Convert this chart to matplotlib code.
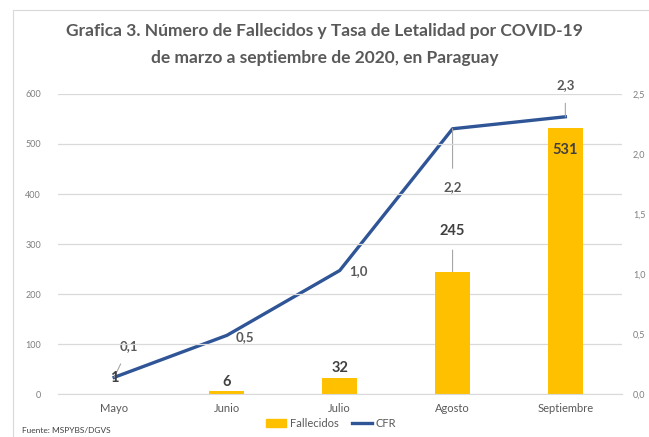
import matplotlib
matplotlib.use("Agg")
from matplotlib import pyplot as plt
from matplotlib.patches import Rectangle
from matplotlib.lines import Line2D

# Daten
meses = ["Mayo", "Junio", "Julio", "Agosto", "Septiembre"]
fallecidos = [1, 6, 32, 245, 531]
cfr = [0.14, 0.49, 1.03, 2.21, 2.31]

plt.rcParams["font.family"] = ["Lato", "DejaVu Sans"]

fig = plt.figure(figsize=(6.49, 4.37), dpi=100)
ax = fig.add_axes([0.089, 0.098, 0.869, 0.687])
ax2 = ax.twinx()

x = list(range(len(meses)))
ax.bar(x, fallecidos, width=0.31, color="#FFC000", zorder=2)
ax2.plot(x, cfr, color="#2F5597", linewidth=2.4, zorder=3)

ax.set_xlim(-0.5, 4.5)
ax.set_ylim(0, 600)
ax2.set_ylim(0, 2.5)
ax.set_yticks(range(0, 601, 100))
ax2.set_yticks([0, 0.5, 1.0, 1.5, 2.0, 2.5])
ax2.set_yticklabels(["0,0", "0,5", "1,0", "1,5", "2,0", "2,5"])
ax.set_xticks(x)
ax.set_xticklabels(meses)
ax.grid(axis="y", color="#D9D9D9", linewidth=0.9, zorder=0)
ax.set_axisbelow(True)

for a in (ax, ax2):
    for s in a.spines.values():
        s.set_visible(False)
    a.tick_params(length=0, colors="#7F7F7F", labelsize=6.5)
ax.spines["bottom"].set_visible(True)
ax.spines["bottom"].set_color("#D9D9D9")
ax.tick_params(axis="x", labelsize=8, colors="#595959", pad=6)
ax.tick_params(axis="y", pad=12)
ax2.tick_params(axis="y", pad=8)
ax.set_zorder(ax2.get_zorder() + 1)
ax.patch.set_visible(False)

# Beschriftungen Balken (Offset in Pixel)
bar_offsets = [(0, 16), (0, 9), (0, 10), (0, 41), (0, -22)]
for i, (v, off) in enumerate(zip(fallecidos, bar_offsets)):
    lead = dict(arrowstyle="-", color="#A6A6A6", lw=0.8, shrinkA=7, shrinkB=0) if i == 3 else None
    ax.annotate(str(v), (i, v), xytext=off, textcoords="offset pixels",
                ha="center", va="center", fontsize=10.5, fontweight="bold",
                color="#404040", arrowprops=lead, zorder=5)

# Beschriftungen CFR
cfr_offsets = [(15, 31), (18, -2), (19, -1), (0, -58), (0, 32)]
for i, (v, off) in enumerate(zip(cfr, cfr_offsets)):
    lead = None
    if i in (0, 3, 4):
        lead = dict(arrowstyle="-", color="#A6A6A6", lw=0.8, shrinkA=7, shrinkB=0)
    ax2.annotate(f"{v:.1f}".replace(".", ","), (i, v), xytext=off,
                 textcoords="offset pixels", ha="center", va="center",
                 fontsize=9.5, fontweight="bold", color="#595959",
                 arrowprops=lead, zorder=5)

fig.text(0.5, 0.93, "Grafica 3. Número de Fallecidos y Tasa de Letalidad por COVID-19",
         ha="center", va="center", fontsize=12.5, fontweight="bold", color="#595959")
fig.text(0.5, 0.867, "de marzo a septiembre de 2020, en Paraguay",
         ha="center", va="center", fontsize=12.5, fontweight="bold", color="#595959")

handles = [Rectangle((0, 0), 1, 1, color="#FFC000"),
           Line2D([0], [0], color="#2F5597", lw=2.4)]
fig.legend(handles, ["Fallecidos", "CFR"], loc="center", bbox_to_anchor=(0.51, 0.032),
           ncol=2, frameon=False, fontsize=8, handlelength=1.8, handletextpad=0.3,
           columnspacing=1.2, labelcolor="#595959")

fig.text(0.034, 0.016, "Fuente: MSPYBS/DGVS", fontsize=6, color="#404040",
         ha="left", va="center")

# Rahmen
fig.add_artist(Line2D([0.02, 0.02], [0, 0.977], color="#D9D9D9", lw=0.8))
fig.add_artist(Line2D([0.02, 1.0], [0.977, 0.977], color="#D9D9D9", lw=0.8))

fig.savefig("out.png", dpi=100)
